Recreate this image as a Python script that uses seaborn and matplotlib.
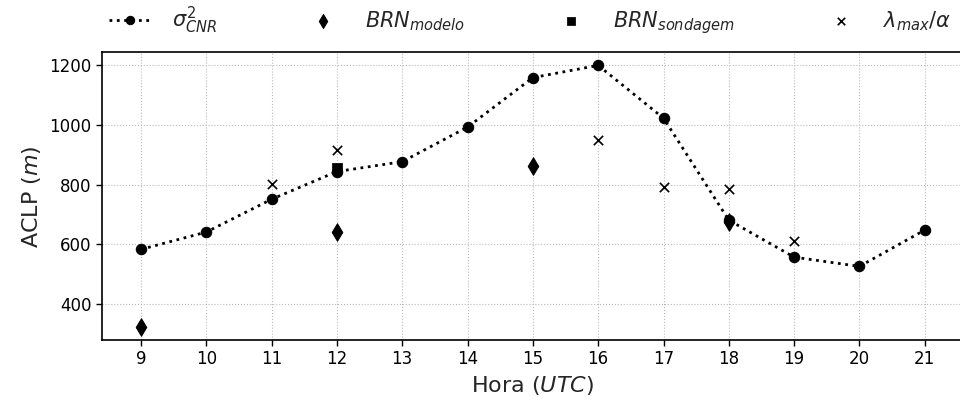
import matplotlib
matplotlib.use("Agg")
import matplotlib.pyplot as plt
import seaborn as sns
import pandas as pd

# Data
hours = [9, 10, 11, 12, 13, 14, 15, 16, 17, 18, 19, 20, 21]
sigma_cnr = [583, 641, 751, 844, 877, 993, 1159, 1200, 1023, 681, 557, 526, 648]

brn_modelo_hours = [9, 12, 15, 18]
brn_modelo = [323, 641, 862, 674]

brn_sondagem_hours = [12]
brn_sondagem = [855]

lambda_hours = [11, 12, 16, 17, 18, 19]
lambda_alpha = [802, 916, 950, 793, 784, 610]

sns.set_style("white")
plt.rcParams['font.family'] = ['DejaVu Sans']
plt.rcParams['mathtext.fontset'] = 'dejavusans'

fig = plt.figure(figsize=(9.6, 4.03), dpi=100)
ax = fig.add_axes([101.7 / 960, 63 / 403, (964 - 101.7) / 960, (340 - 52.3) / 403])

df1 = pd.DataFrame({"h": hours, "v": sigma_cnr})
sns.lineplot(data=df1, x="h", y="v", ax=ax, color="black", linestyle=":", lw=2,
             marker="o", markersize=7.5, markeredgecolor="black",
             label=r"$\sigma^2_{CNR}$")
sns.scatterplot(x=brn_modelo_hours, y=brn_modelo, ax=ax, marker="d", s=80,
                color="black", edgecolor="black", label=r"$BRN_{modelo}$", zorder=3)
sns.scatterplot(x=brn_sondagem_hours, y=brn_sondagem, ax=ax, marker="s", s=45,
                color="black", edgecolor="black", label=r"$BRN_{sondagem}$", zorder=3)
sns.scatterplot(x=lambda_hours, y=lambda_alpha, ax=ax, marker="x", s=45,
                color="black", linewidth=1.2, label=r"$\lambda_{max}/\alpha$", zorder=3)

ax.set_xticks(hours)
ax.set_yticks([400, 600, 800, 1000, 1200])
ax.tick_params(axis="both", labelsize=12, length=4, width=1, direction="out",
               bottom=True, left=True, colors="black")
ax.grid(True, linestyle=":", color="#bbbbbb", linewidth=0.8)
for s in ax.spines.values():
    s.set_color("black")
    s.set_linewidth(1.2)

ax.set_xlabel(r"Hora ($UTC$)", fontsize=16)
ax.set_ylabel(r"ACLP ($m$)", fontsize=16)

handles, labels = ax.get_legend_handles_labels()
ax.get_legend().remove()
fig.legend(handles, labels, loc="center", bbox_to_anchor=(0.552, 0.95), ncol=4,
           frameon=False, fontsize=15, handlelength=2.0, columnspacing=4.1,
           handletextpad=1.0, markerscale=0.8)

fig.savefig("out.png", dpi=100)
